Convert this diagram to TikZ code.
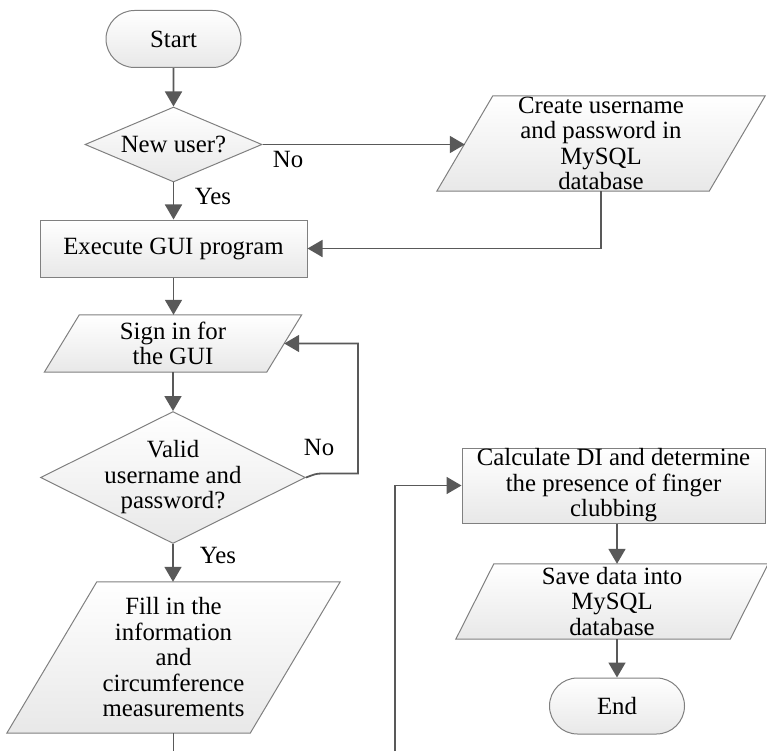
\documentclass[tikz,border=0pt]{standalone}
\usepackage{fontspec}
\setmainfont{Liberation Serif}
\usetikzlibrary{shapes.geometric,shapes.misc,arrows.meta,calc,backgrounds}
\tikzset{
 shp/.style={draw=black!50, line width=1pt, top color=white, bottom color=black!9},
 term/.style={shp, rounded rectangle, minimum width=135pt, minimum height=57pt, inner sep=0pt},
 dec/.style={shp, diamond, inner sep=0pt},
 proc/.style={shp, rectangle, inner sep=0pt, align=center},
 io/.style={rectangle, inner sep=0pt, align=center},
 txt/.style={inner sep=0pt, align=center},
 conn/.style={draw=black!65, line width=1.8pt, -{Triangle[length=15pt,width=17pt]}},
 plain/.style={draw=black!65, line width=1.8pt},
 lbl/.style={inner sep=0pt},
}
\newcommand\paral[2]{%
  \begin{pgfonlayer}{background}
  \path[shp] ($(#1.south west)+(-#2/2,0)$) -- ($(#1.south east)+(-#2/2,0)$) -- ($(#1.north east)+(#2/2,0)$) -- ($(#1.north west)+(#2/2,0)$) -- cycle;
  \end{pgfonlayer}}
\begin{document}
\begin{tikzpicture}[x=1pt,y=-1pt, every node/.style={font=\fontsize{24.8}{25.5}\selectfont}]
\useasboundingbox (0,0) rectangle (767,751);
% nodes
\node[term] (start) at (173.5,39) {Start};
\node[dec, minimum width=177pt, minimum height=75pt] (newuser) at (173.5,144.5) {};
\node[txt] (newusert) at (newuser) {New user?};
\node[io, minimum width=272pt, minimum height=95pt] (create) at (601,143.5) {Create username\\and password in\\MySQL\\database};
\paral{create}{56}
\node[proc, minimum width=267pt, minimum height=57pt] (execute) at (173.5,248.5) {Execute GUI program};
\node[io, minimum width=222pt, minimum height=57pt] (signin) at (173,343.5) {Sign in for\\the GUI};
\paral{signin}{35}
\node[dec, minimum width=265pt, minimum height=132pt] (valid) at (173,477.5) {};
\node[txt] (validt) at (valid) {Valid\\username and\\password?};
\node[io, minimum width=243pt, minimum height=151pt] (fill) at (173.5,657.5) {Fill in the\\information\\and\\circumference\\measurements};
\paral{fill}{90}
\node[proc, minimum width=303pt, minimum height=75pt] (calc) at (613.5,485.5) {Calculate DI and determine\\the presence of finger\\clubbing};
\node[io, minimum width=274pt, minimum height=75pt] (save) at (612,601.5) {Save data into\\MySQL\\database};
\paral{save}{38}
\node[term, minimum height=56pt] (endn) at (617,706) {End};
% labels
\node[lbl] (lno1) at (288,160) {No};
\node[lbl] (lyes1) at (213,197) {Yes};
\node[lbl] (lno2) at (319,447) {No};
\node[lbl] (lyes2) at (218,555) {Yes};
% helper coordinates
\coordinate (loopx) at (358,0);
\coordinate (vn) at ($(valid.east)+(16,-4)$);
\coordinate (fillout) at (173.5,751);
\coordinate (calcin) at (395,751);
% connectors
\draw[conn] (start) -- (newuser);
\draw[conn] (newuser.east) -- (newuser.east -| create.west);
\draw[conn] (newuser) -- (execute);
\draw[conn] (create.south) |- (execute.east);
\draw[conn] (execute) -- (signin.north -| execute);
\draw[conn] (signin.south -| valid) -- (valid.north);
\draw[conn] (valid.east) .. controls +(8,-3) and +(-6,0) .. (vn) -| (loopx |- signin.east) -- (signin.east);
\draw[conn] (valid.south) -- (fill.north -| valid);
\draw[plain] (fill.south) -- (fillout);
\draw[conn] (calcin) |- (calc.west);
\draw[conn] (calc.south -| endn) -- (save.north -| endn);
\draw[conn] (save.south -| endn) -- (endn.north);
\end{tikzpicture}
\end{document}
